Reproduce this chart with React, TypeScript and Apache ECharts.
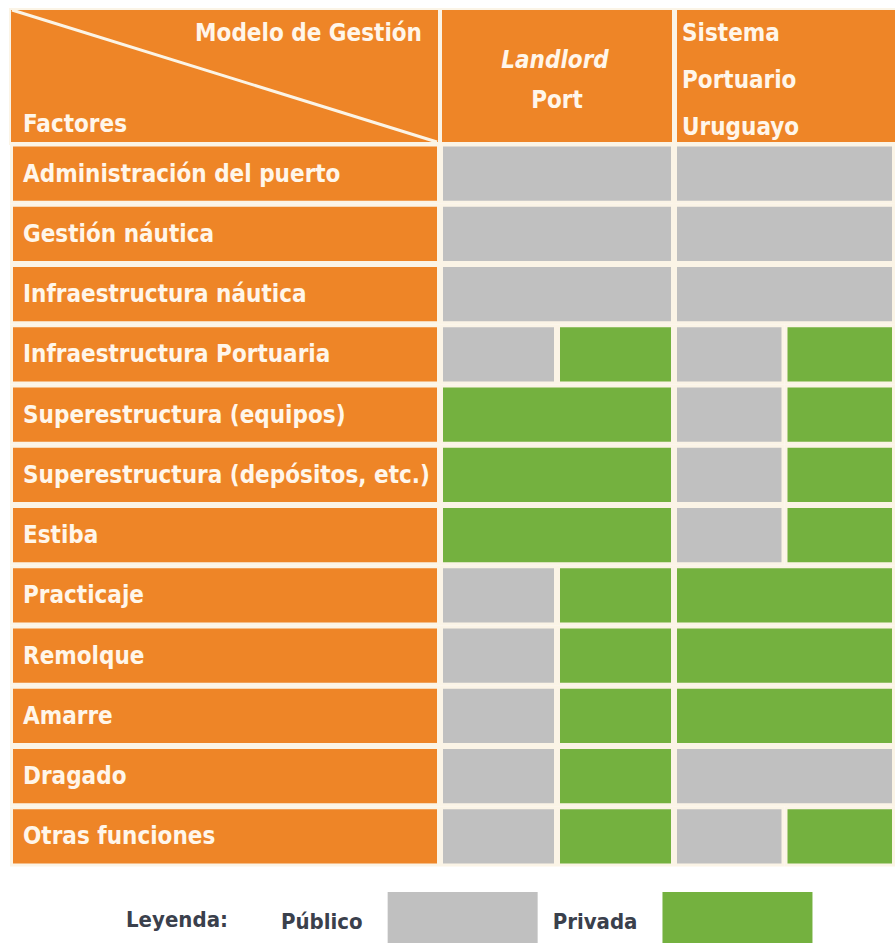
import React, { useEffect, useRef } from "react";
import * as echarts from "echarts";

const categories = [
  "Administración del puerto",
  "Gestión náutica",
  "Infraestructura náutica",
  "Infraestructura Portuaria",
  "Superestructura (equipos)",
  "Superestructura (depósitos, etc.)",
  "Estiba",
  "Practicaje",
  "Remolque",
  "Amarre",
  "Dragado",
  "Otras funciones",
];
const rowFill = [1, 1, 1, 1, 1, 1, 1, 1, 1, 1, 1, 1];
const landlordPublic = [1, 1, 1, 0.5, 0, 0, 0, 0.5, 0.5, 0.5, 0.5, 0.5];
const landlordPrivate = [0, 0, 0, 0.5, 1, 1, 1, 0.5, 0.5, 0.5, 0.5, 0.5];
const uruguayPublic = [1, 1, 1, 0.5, 0.5, 0.5, 0.5, 0, 0, 0, 1, 0.5];
const uruguayPrivate = [0, 0, 0, 0.5, 0.5, 0.5, 0.5, 1, 1, 1, 0, 0.5];
const legendNames = ["Público", "Privada"];

const ORANGE = "#EE8527";
const GRAY = "#C0C0C0";
const GREEN = "#74B13F";
const CREAM = "#FBF4E6";
const TEXT = "#FFF6EA";
const FONT = "'Liberation Sans Narrow', 'DejaVu Sans Condensed', 'Open Sans', sans-serif";
const FS = 24;

export default function App() {
  const ref = useRef<HTMLDivElement>(null);
  useEffect(() => {
    if (!ref.current) return;
    const chart = echarts.init(ref.current, null, { renderer: "svg" });
    const grids = [
      { left: 10, width: 430, top: 143.5, height: 723 },
      { left: 440, width: 234, top: 143.5, height: 723 },
      { left: 674, width: 234, top: 143.5, height: 723 },
    ];
    const xAxes = grids.map((_, i) => ({ type: "value", gridIndex: i, min: 0, max: 1, show: false }));
    const yAxes = grids.map((_, i) => ({
      type: "category",
      gridIndex: i,
      data: categories,
      inverse: true,
      show: false,
    }));
    const cellStyle = (color: string) => ({ color, borderColor: CREAM, borderWidth: 3 });
    const option: any = {
      animation: false,
      backgroundColor: "#FFFFFF",
      grid: grids,
      xAxis: xAxes,
      yAxis: yAxes,
      legend: {
        data: legendNames,
        left: 276,
        top: 887,
        align: "right",
        icon: "rect",
        itemWidth: 150,
        itemHeight: 58,
        itemGap: 15,
        selectedMode: false,
        itemStyle: { borderWidth: 0 },
        textStyle: {
          fontFamily: FONT,
          fontWeight: "bold",
          fontSize: FS - 2,
          color: "#3A404C",
          padding: [0, 20, 0, 0],
        },
      },
      series: [
        {
          type: "bar",
          name: "Factores",
          xAxisIndex: 0,
          yAxisIndex: 0,
          data: rowFill,
          barWidth: "100%",
          itemStyle: cellStyle(ORANGE),
          silent: true,
          label: {
            show: true,
            position: "insideLeft",
            distance: 13,
            formatter: (p: any) => p.name,
            color: TEXT,
            fontFamily: FONT,
            fontWeight: "bold",
            fontSize: FS,
          },
        },
        {
          type: "bar",
          name: "Público",
          stack: "L",
          xAxisIndex: 1,
          yAxisIndex: 1,
          data: landlordPublic,
          barWidth: "100%",
          itemStyle: cellStyle(GRAY),
        },
        {
          type: "bar",
          name: "Privada",
          stack: "L",
          xAxisIndex: 1,
          yAxisIndex: 1,
          data: landlordPrivate,
          barWidth: "100%",
          itemStyle: cellStyle(GREEN),
        },
        {
          type: "bar",
          name: "Público",
          stack: "U",
          xAxisIndex: 2,
          yAxisIndex: 2,
          data: uruguayPublic,
          barWidth: "100%",
          itemStyle: cellStyle(GRAY),
        },
        {
          type: "bar",
          name: "Privada",
          stack: "U",
          xAxisIndex: 2,
          yAxisIndex: 2,
          data: uruguayPrivate,
          barWidth: "100%",
          itemStyle: cellStyle(GREEN),
        },
      ],
      graphic: [
        { type: "rect", shape: { x: 9, y: 8, width: 920, height: 137 }, style: { fill: CREAM }, z: 0 },
        { type: "rect", shape: { x: 11, y: 10, width: 427, height: 132 }, style: { fill: ORANGE }, z: 1 },
        { type: "rect", shape: { x: 442, y: 10, width: 230, height: 132 }, style: { fill: ORANGE }, z: 1 },
        { type: "rect", shape: { x: 677, y: 10, width: 260, height: 132 }, style: { fill: ORANGE }, z: 1 },
        { type: "line", shape: { x1: 12, y1: 10, x2: 437, y2: 142 }, style: { stroke: CREAM, lineWidth: 3 }, z: 2 },
        {
          type: "text", x: 422, y: 33, z: 3,
          style: { text: "Modelo de Gestión", fill: TEXT, font: `bold ${FS}px ${FONT}`, align: "right", verticalAlign: "middle" },
        },
        {
          type: "text", x: 23, y: 124, z: 3,
          style: { text: "Factores", fill: TEXT, font: `bold ${FS}px ${FONT}`, align: "left", verticalAlign: "middle" },
        },
        {
          type: "text", x: 555, y: 60, z: 3,
          style: { text: "Landlord", fill: TEXT, font: `italic bold ${FS}px ${FONT}`, align: "center", verticalAlign: "middle" },
        },
        {
          type: "text", x: 557, y: 100, z: 3,
          style: { text: "Port", fill: TEXT, font: `bold ${FS}px ${FONT}`, align: "center", verticalAlign: "middle" },
        },
        {
          type: "text", x: 682, y: 33, z: 3,
          style: { text: "Sistema", fill: TEXT, font: `bold ${FS}px ${FONT}`, align: "left", verticalAlign: "middle" },
        },
        {
          type: "text", x: 682, y: 80, z: 3,
          style: { text: "Portuario", fill: TEXT, font: `bold ${FS}px ${FONT}`, align: "left", verticalAlign: "middle" },
        },
        {
          type: "text", x: 682, y: 127, z: 3,
          style: { text: "Uruguayo", fill: TEXT, font: `bold ${FS}px ${FONT}`, align: "left", verticalAlign: "middle" },
        },
        {
          type: "text", x: 126, y: 919, z: 3,
          style: { text: "Leyenda:", fill: "#3A404C", font: `bold ${FS - 2}px ${FONT}`, align: "left", verticalAlign: "middle" },
        },
      ],
    };
    chart.setOption(option);
    return () => chart.dispose();
  }, []);
  return <div ref={ref} style={{ position: "fixed", left: 0, top: 0, width: 895, height: 943 }} />;
}
